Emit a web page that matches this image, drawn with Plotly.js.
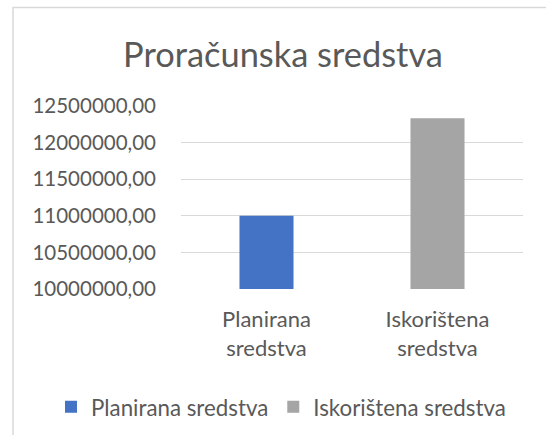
<!DOCTYPE html>
<html>
<head>
<meta charset="utf-8">
<script src="https://cdn.plot.ly/plotly-3.0.1.min.js"></script>
<style>html,body{margin:0;padding:0;background:#fff;} #chart{width:546px;height:435px;}</style>
</head>
<body>
<div id="chart"></div>
<script>
const categories = ["Planirana<br>sredstva", "Iskorištena<br>sredstva"];
const seriesNames = ["Planirana sredstva", "Iskorištena sredstva"];
const seriesValues = [11000000, 12334000];
const seriesColors = ["#4472C4", "#A5A5A5"];
const yTickVals = [10000000, 10500000, 11000000, 11500000, 12000000, 12500000];

const FONT = "Lato, 'Open Sans', sans-serif";
const traces = seriesNames.map((name, i) => ({
  type: "bar",
  name: name,
  x: [categories[i]],
  y: [seriesValues[i]],
  marker: {color: seriesColors[i]},
  hoverinfo: "skip"
}));

const L = 181, R = 523, T = 105.7, B = 289;
const W = 546, H = 435;
const pw = R - L, ph = B - T;

const layout = {
  width: W, height: H,
  margin: {l: L, r: W - R, t: T, b: H - B, pad: 0, autoexpand: false},
  paper_bgcolor: "#ffffff",
  plot_bgcolor: "#ffffff",
  separators: ",.",
  font: {family: FONT, color: "#595959", size: 21},
  title: {
    text: "Proračunska sredstva",
    font: {family: FONT, size: 34.4, color: "#595959"},
    x: 283 / W, xanchor: "center", xref: "container",
    y: 1 - 55 / H, yanchor: "middle", yref: "container"
  },
  barmode: "overlay",
  bargap: 0.684,
  showlegend: true,
  legend: {
    orientation: "h",
    xref: "paper", yref: "paper",
    x: (51 - L) / pw, xanchor: "left",
    y: (B - 407) / ph, yanchor: "middle",
    font: {family: FONT, size: 22.3, color: "#595959"},
    bgcolor: "rgba(0,0,0,0)",
    traceorder: "normal"
  },
  xaxis: {
    type: "category",
    categoryorder: "array",
    categoryarray: categories,
    showgrid: false,
    zeroline: false,
    showline: false,
    ticks: "",
    ticklabelstandoff: 15,
    tickfont: {family: FONT, size: 22, color: "#595959"},
    fixedrange: true
  },
  yaxis: {
    range: [10000000, 12500000],
    tickvals: yTickVals,
    tickformat: ".2f",
    showgrid: true,
    gridcolor: "#D9D9D9",
    gridwidth: 1.3,
    zeroline: false,
    showline: false,
    ticks: "",
    ticklabelstandoff: 24,
    tickfont: {family: FONT, size: 20.5, color: "#595959"},
    fixedrange: true
  },
  shapes: [{
    type: "rect", xref: "paper", yref: "paper",
    x0: (13 - L) / pw, x1: (W + 200 - L) / pw,
    y0: (B - (H + 200)) / ph, y1: (B - 7) / ph,
    line: {color: "#D9D9D9", width: 1.5},
    fillcolor: "rgba(0,0,0,0)",
    layer: "below"
  }]
};

Plotly.newPlot("chart", traces, layout, {staticPlot: true, displayModeBar: false});
</script>
</body>
</html>
